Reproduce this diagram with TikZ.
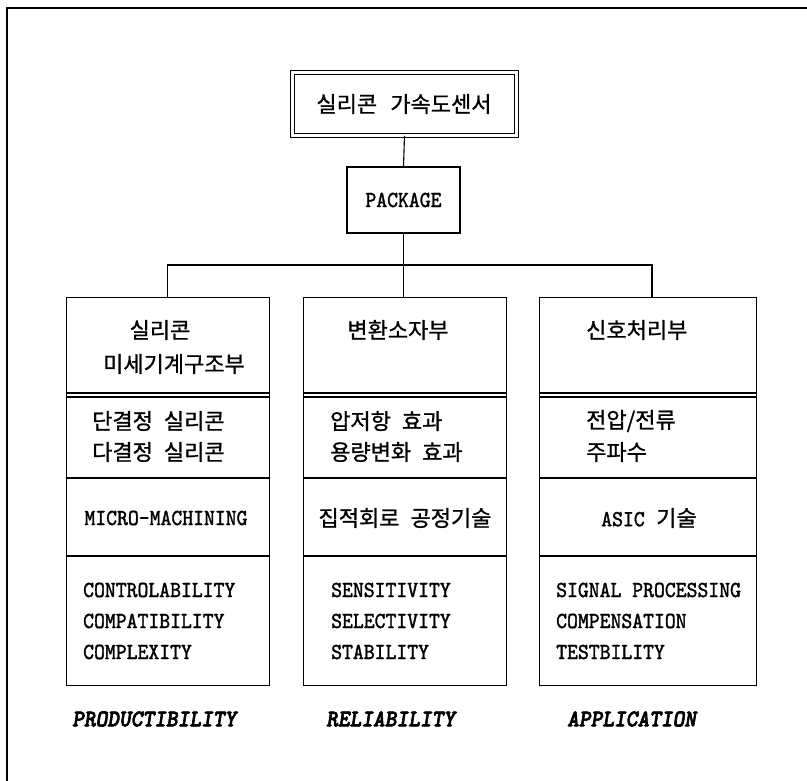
\documentclass[tikz,border=0pt]{standalone}
\usepackage{fontspec}
\setmainfont{Liberation Mono}
\newfontfamily\kr[FakeBold=1]{Noto Sans CJK KR}
\newfontfamily\en[FakeBold=1.5, FakeStretch=0.9]{lmmono10-regular.otf}
\newfontfamily\enlbl[FakeBold=2.5, FakeStretch=0.93]{lmmonolt10-boldoblique.otf}
\tikzset{
  ln/.style={line width=1.1pt},
  colbox/.style={draw, line width=1.1pt, inner sep=0pt, anchor=north west},
  kt/.style={font=\kr\fontsize{22}{22}\selectfont, inner sep=0pt},
  et/.style={font=\en\fontsize{23}{23}\selectfont, inner sep=0pt},
  lbl/.style={font=\enlbl\fontsize{24}{24}\selectfont, inner sep=0pt, anchor=west},
}
\begin{document}
\begin{tikzpicture}[x=1pt,y=-1pt]
\useasboundingbox (0,0) rectangle (807,781);
% outer frame (partly cut off)
\draw[ln] (7,781) -- (7,8) -- (807,8);

% top box
\node[draw, double, double distance=2.5pt, line width=0.9pt, minimum width=224pt, minimum height=63pt, inner sep=0pt] (top) at (404.5,104) {};
\node[kt] (toptxt) at (404,104) {실리콘\hspace{0.6em}가속도센서};

% package
\node[draw, ln, minimum width=113pt, minimum height=66pt, inner sep=0pt] (pkg) at (403.5,200) {};
\node[et] (pkgtxt) at (403.5,200) {PACKAGE};

% columns
\node[colbox, minimum width=203pt, minimum height=388pt] (L) at (66,297) {};
\node[colbox, minimum width=203pt, minimum height=388pt] (M) at (303,297) {};
\node[colbox, minimum width=217pt, minimum height=388pt] (R) at (539,297) {};

% row dividers
\foreach \c in {L,M,R}{
  \draw[ln] (\c.west |- 0,393) -- (\c.east |- 0,393);
  \draw[ln] (\c.west |- 0,397) -- (\c.east |- 0,397);
  \draw[ln] (\c.west |- 0,478) -- (\c.east |- 0,478);
  \draw[ln] (\c.west |- 0,556) -- (\c.east |- 0,556);
}

% connectors
\coordinate (busL) at (167.5,265);
\coordinate (busR) at (652,265);
\draw[ln] (top.south) -- (pkg.north);
\draw[ln] (pkg.south) -- (M.north -| pkg.south);
\draw[ln] (L.north -| busL) -- (busL) -- (busR) -- (R.north -| busR);

% left column texts
\node[kt] (l1a) at (160,330) {실리콘};
\node[kt] (l1b) at (174,364) {미세기계구조부};
\node[kt, anchor=west] (l2a) at (92,421) {단결정\hspace{0.5em}실리콘};
\node[kt, anchor=west] (l2b) at (92,452) {다결정\hspace{0.5em}실리콘};
\node[et] (l3) at (166,518) {MICRO-MACHINING};
\node[et, anchor=west] (l4a) at (83,590) {CONTROLABILITY};
\node[et, anchor=west] (l4b) at (83,621) {COMPATIBILITY};
\node[et, anchor=west] (l4c) at (83,652) {COMPLEXITY};

% middle column texts
\node[kt] (m1) at (398,330) {변환소자부};
\node[kt, anchor=west] (m2a) at (330,421) {압저항\hspace{0.5em}효과};
\node[kt, anchor=west] (m2b) at (330,452) {용량변화\hspace{0.5em}효과};
\node[kt] (m3) at (405,518) {집적회로\hspace{0.5em}공정기술};
\node[et, anchor=west] (m4a) at (331,590) {SENSITIVITY};
\node[et, anchor=west] (m4b) at (331,621) {SELECTIVITY};
\node[et, anchor=west] (m4c) at (331,652) {STABILITY};

% right column texts
\node[kt, anchor=west] (r1) at (586,330) {신호처리부};
\node[kt, anchor=west] (r2a) at (586,421) {전압/전류};
\node[kt, anchor=west] (r2b) at (586,452) {주파수};
\node[et] (r3) at (649,518) {ASIC\hspace{0.5em}{\kr\fontsize{22}{22}\selectfont 기술}};
\node[et, anchor=west] (r4a) at (556,590) {SIGNAL PROCESSING};
\node[et, anchor=west] (r4b) at (556,621) {COMPENSATION};
\node[et, anchor=west] (r4c) at (556,652) {TESTBILITY};

% bottom labels
\node[lbl] (lp) at (72,719) {PRODUCTIBILITY};
\node[lbl] (lr) at (326,719) {RELIABILITY};
\node[lbl] (la) at (567,719) {APPLICATION};
\end{tikzpicture}
\end{document}
